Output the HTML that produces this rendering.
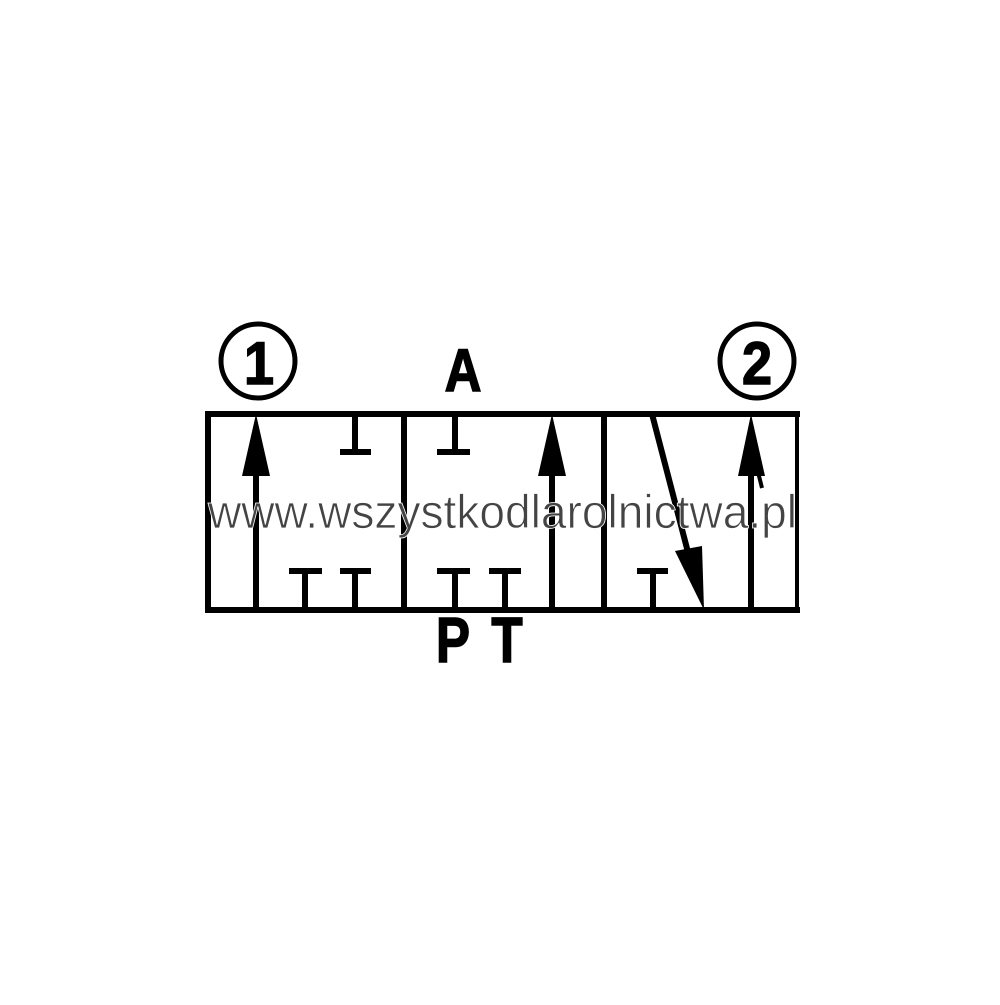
<!DOCTYPE html>
<html><head><style>html,body{margin:0;padding:0;background:#fff}</style></head>
<body>
<svg width="1000" height="1000" viewBox="0 0 1000 1000" xmlns="http://www.w3.org/2000/svg">
<rect width="1000" height="1000" fill="#fff"/>
<g stroke="#000" fill="none" stroke-width="6">
<line x1="205" y1="414" x2="800" y2="414"/>
<line x1="205" y1="610" x2="800" y2="610"/>
<line x1="208" y1="411" x2="208" y2="613"/>
<line x1="404" y1="411" x2="404" y2="613"/>
<line x1="604" y1="411" x2="604" y2="613"/>
<line x1="797" y1="411" x2="797" y2="613" stroke-width="4"/>
<line x1="256" y1="470" x2="256" y2="610"/>
<line x1="552" y1="470" x2="552" y2="610"/>
<line x1="751" y1="470" x2="751" y2="610"/>
<line x1="652" y1="414" x2="690" y2="560"/>
<line x1="355" y1="414" x2="355" y2="452"/><line x1="340" y1="452" x2="371" y2="452"/>
<line x1="455" y1="414" x2="455" y2="452"/><line x1="437" y1="452" x2="470" y2="452"/>
<line x1="305" y1="571" x2="305" y2="610"/><line x1="289" y1="571" x2="322" y2="571"/>
<line x1="355" y1="571" x2="355" y2="610"/><line x1="340" y1="571" x2="371" y2="571"/>
<line x1="455" y1="571" x2="455" y2="610"/><line x1="437" y1="571" x2="470" y2="571"/>
<line x1="505" y1="571" x2="505" y2="610"/><line x1="489" y1="571" x2="521" y2="571"/>
<line x1="653" y1="571" x2="653" y2="610"/><line x1="637" y1="571" x2="668" y2="571"/>
<line x1="757" y1="468" x2="762" y2="488" stroke-width="4"/>
<circle cx="258" cy="361" r="37" stroke-width="5"/>
<circle cx="757" cy="361" r="37" stroke-width="5"/>
</g>
<g fill="#000">
<polygon points="256,414 242,476 270,476"/>
<polygon points="552,414 538,476 566,476"/>
<polygon points="751,414 738,476 765,476"/>
<polygon points="704,610 675,551 702,546"/>
</g>
<g font-family="Liberation Sans, sans-serif" font-weight="bold" fill="#000" stroke="#000" stroke-width="1.5" text-anchor="middle">
<text x="259" y="384" font-size="60" transform="translate(259 0) scale(0.9 1) translate(-259 0)">1</text>
<text x="757" y="384" font-size="60" transform="translate(757 0) scale(0.9 1) translate(-757 0)">2</text>
<text x="463" y="391" font-size="60" transform="translate(463 0) scale(0.85 1) translate(-463 0)">A</text>
<text x="453" y="662" font-size="64" transform="translate(453 0) scale(0.8 1) translate(-453 0)">P</text>
<text x="507" y="662" font-size="64" transform="translate(507 0) scale(0.8 1) translate(-507 0)">T</text>
</g>
<text x="208" y="528" font-family="Liberation Sans, sans-serif" font-size="47" fill="#444" stroke="#fff" stroke-width="0.8" paint-order="normal" textLength="589" lengthAdjust="spacingAndGlyphs">www.wszystkodlarolnictwa.pl</text>
</svg>
</body></html>
